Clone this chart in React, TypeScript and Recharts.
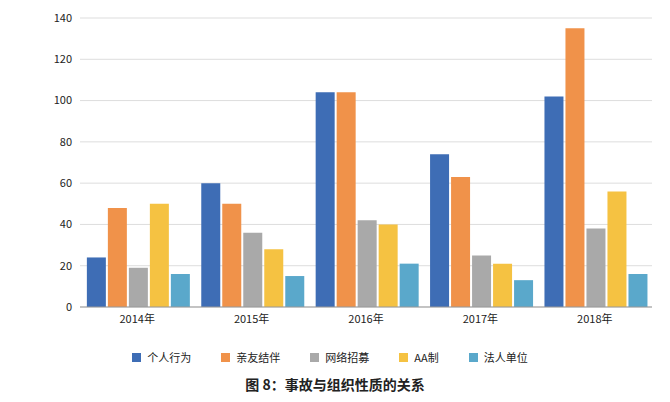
import { BarChart, Bar, XAxis, YAxis, CartesianGrid, Legend } from "recharts";

const years = ["2014年", "2015年", "2016年", "2017年", "2018年"];
const personal = [24, 60, 104, 74, 102];
const friends = [48, 50, 104, 63, 135];
const online = [19, 36, 42, 25, 38];
const aa = [50, 28, 40, 21, 56];
const legal = [16, 15, 21, 13, 16];
const yTicks = [0, 20, 40, 60, 80, 100, 120, 140];

const seriesNames = ["个人行为", "亲友结伴", "网络招募", "AA制", "法人单位"];
const seriesColors = ["#3e6db5", "#f0924a", "#a9a9a9", "#f5c242", "#5aa8cb"];

const data = years.map((year, i) => ({
  year,
  personal: personal[i],
  friends: friends[i],
  online: online[i],
  aa: aa[i],
  legal: legal[i],
}));

const font = "'Noto Sans CJK SC', 'Noto Sans', sans-serif";

function LegendRow() {
  return (
    <div style={{ display: "flex", justifyContent: "center", fontSize: 11, color: "#222" }}>
      {seriesNames.map((n, i) => (
        <span key={n} style={{ display: "flex", alignItems: "center", marginRight: 30 }}>
          <span style={{ width: 9, height: 9, background: seriesColors[i], marginRight: 6 }} />
          {n}
        </span>
      ))}
    </div>
  );
}

export default function App() {
  return (
    <div style={{ width: 670, height: 402, background: "#fff", fontFamily: font, position: "relative", margin: -8 }}>
      <BarChart
        width={670}
        height={365}
        data={data}
        margin={{ top: 18, right: 18, bottom: 0, left: 38 }}
        barCategoryGap="6%"
        barGap={2}
      >
        <CartesianGrid vertical={false} stroke="#ddd" />
        <XAxis dataKey="year" tickLine={false} axisLine={{ stroke: "#999" }} tick={{ fontSize: 11, fill: "#222" }} />
        <YAxis
          domain={[0, 140]}
          ticks={yTicks}
          tickLine={false}
          axisLine={false}
          width={42}
          tick={{ fontSize: 11, fill: "#222" }}
        />
        <Legend verticalAlign="bottom" content={<LegendRow />} wrapperStyle={{ paddingTop: 12 }} />
        <Bar dataKey="personal" name={seriesNames[0]} fill={seriesColors[0]} isAnimationActive={false} />
        <Bar dataKey="friends" name={seriesNames[1]} fill={seriesColors[1]} isAnimationActive={false} />
        <Bar dataKey="online" name={seriesNames[2]} fill={seriesColors[2]} isAnimationActive={false} />
        <Bar dataKey="aa" name={seriesNames[3]} fill={seriesColors[3]} isAnimationActive={false} />
        <Bar dataKey="legal" name={seriesNames[4]} fill={seriesColors[4]} isAnimationActive={false} />
      </BarChart>
      <div style={{ position: "absolute", top: 374, width: "100%", textAlign: "center", fontSize: 14, fontWeight: "bold", color: "#222" }}>
        图 8：事故与组织性质的关系
      </div>
    </div>
  );
}
